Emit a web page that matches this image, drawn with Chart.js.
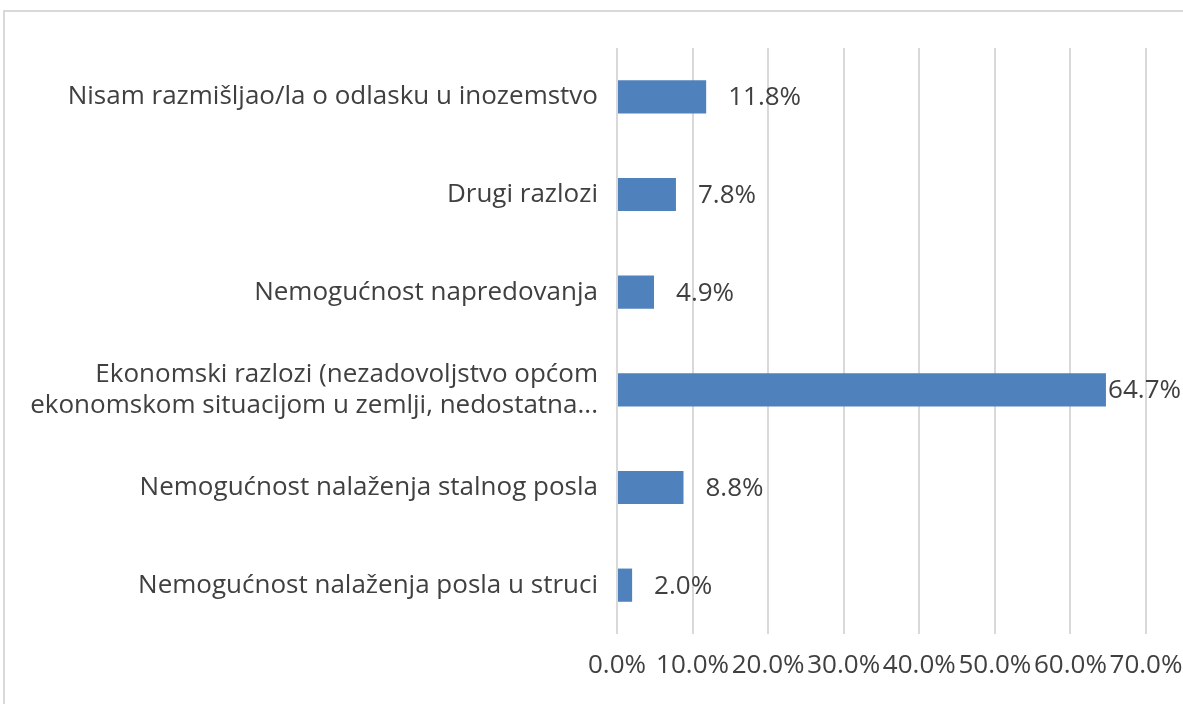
<!DOCTYPE html>
<html>
<head>
<meta charset="utf-8">
<script src="https://cdn.jsdelivr.net/npm/chart.js@4/dist/chart.umd.min.js"></script>
<style>
  html, body { margin: 0; padding: 0; background: #fff; overflow: hidden; }
  #frame { position: absolute; left: 3px; top: 10px; width: 1300px; height: 800px; border: 2px solid #d9d9d9; }
  #wrap { position: absolute; left: 0; top: 0; width: 1183px; height: 704px; }
</style>
</head>
<body>
<div id="frame"></div>
<div id="wrap"><canvas id="myChart"></canvas></div>
<script>
const categories = [
  "Nisam razmišljao/la o odlasku u inozemstvo",
  "Drugi razlozi",
  "Nemogućnost napredovanja",
  ["Ekonomski razlozi (nezadovoljstvo općom", "ekonomskom situacijom u zemlji, nedostatna..."],
  "Nemogućnost nalaženja stalnog posla",
  "Nemogućnost nalaženja posla u struci"
];
const shares = [11.8, 7.8, 4.9, 64.7, 8.8, 2.0];
const axisMin = 0, axisMax = 70, axisStep = 10;

const textColor = "#404040";
const fontFamily = "'Open Sans', sans-serif";
const fontSize = 26;

// simple value labels, drawn at the end of each bar
const barLabels = {
  id: "barLabels",
  afterDatasetsDraw(chart) {
    const ctx = chart.ctx;
    const meta = chart.getDatasetMeta(0);
    ctx.save();
    ctx.font = fontSize + "px " + fontFamily;
    ctx.fillStyle = textColor;
    ctx.textBaseline = "middle";
    ctx.textAlign = "left";
    meta.data.forEach((bar, i) => {
      const txt = shares[i].toFixed(1) + "%";
      const w = ctx.measureText(txt).width;
      let x = bar.x + 22;
      if (x + w > chart.width - 2) x = Math.min(bar.x + 7, chart.width - 2 - w);
      ctx.fillText(txt, x, bar.y + 1);
    });
    ctx.restore();
  }
};

new Chart("myChart", {
  type: "bar",
  data: {
    labels: categories,
    datasets: [{
      data: shares,
      backgroundColor: "#4f81bd",
      barPercentage: 0.68,
      categoryPercentage: 0.5
    }]
  },
  plugins: [barLabels],
  options: {
    indexAxis: "y",
    responsive: true,
    maintainAspectRatio: false,
    animation: false,
    layout: { padding: { top: 48, right: 37, left: 0, bottom: 0 } },
    plugins: { legend: { display: false }, tooltip: { enabled: false } },
    scales: {
      x: {
        min: axisMin,
        max: axisMax,
        border: { display: false },
        grid: { color: "#d9d9d9", lineWidth: 2, drawTicks: false },
        ticks: {
          stepSize: axisStep,
          padding: 16,
          color: textColor,
          font: { family: fontFamily, size: fontSize },
          maxRotation: 0,
          autoSkip: false,
          callback: v => v.toFixed(1) + "%"
        },
        afterFit(scale) {
          scale.height = 70;
          scale.paddingLeft = 0;
          scale.paddingRight = 0;
        }
      },
      y: {
        border: { display: false },
        grid: { display: false, drawTicks: false },
        ticks: {
          padding: 19,
          color: textColor,
          font: { family: fontFamily, size: fontSize },
          autoSkip: false
        },
        afterFit(scale) { scale.width = 617; }
      }
    }
  }
});
</script>
</body>
</html>
